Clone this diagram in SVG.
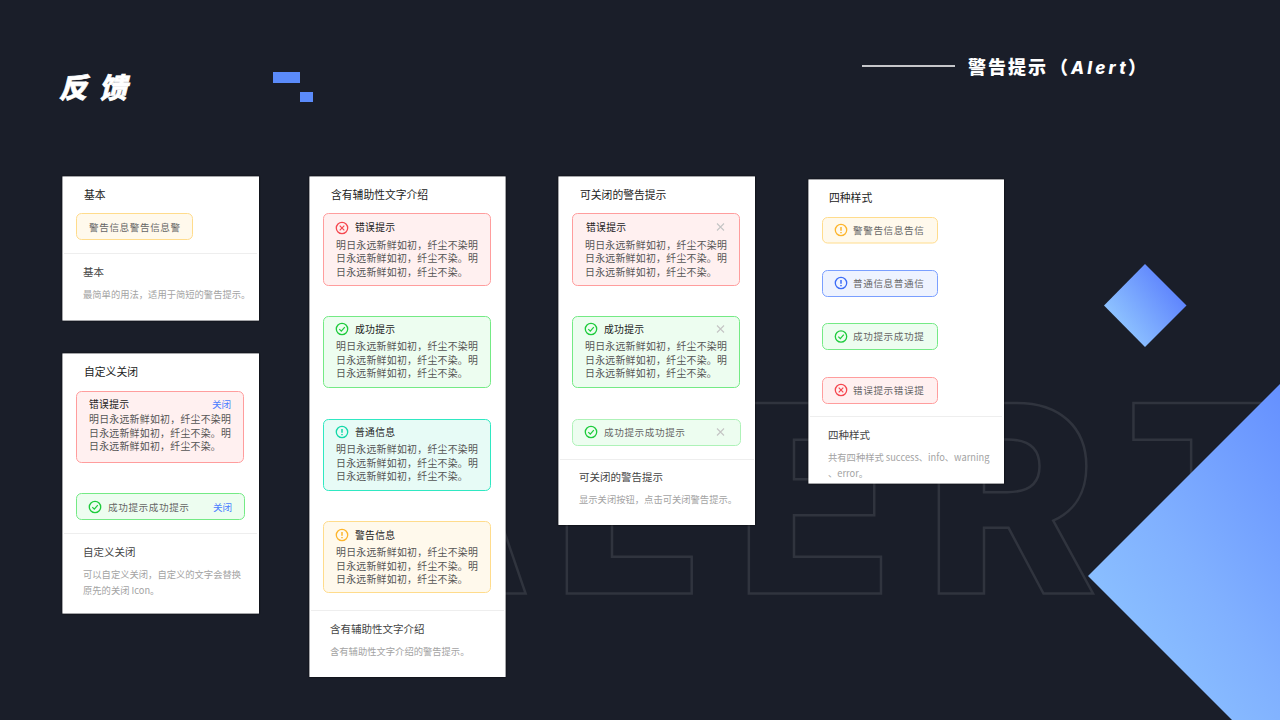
<svg xmlns="http://www.w3.org/2000/svg" width="1280" height="720" viewBox="0 0 1280 720">
<defs>
<linearGradient id="gBig" x1="1" y1="0" x2="0.2" y2="1"><stop offset="0" stop-color="#6590ff"/><stop offset="0.55" stop-color="#80b0ff"/><stop offset="1" stop-color="#8fc6ff"/></linearGradient>
<linearGradient id="gDia" x1="0.85" y1="0.3" x2="0.2" y2="0.8"><stop offset="0" stop-color="#5f85fd"/><stop offset="1" stop-color="#8fc4ff"/></linearGradient>
<filter id="sh" x="-5%" y="-5%" width="110%" height="110%"><feDropShadow dx="0" dy="0" stdDeviation="1" flood-color="#000" flood-opacity="0.9"/></filter>
<g id="ix" fill="none"><circle r="5.700" stroke="#f5474f" stroke-width="1.300"/><path d="M-2.300-2.300L2.300 2.300M2.300-2.300L-2.300 2.300" stroke="#f5474f" stroke-width="1.200"/></g>
<g id="ic" fill="none"><circle r="5.700" stroke="#1ecb3c" stroke-width="1.300"/><path d="M-2.700 0.200L-0.700 2.200L2.800-1.900" stroke="#1ecb3c" stroke-width="1.200"/></g>
<g id="it"><circle r="5.700" fill="none" stroke="#12d8a8" stroke-width="1.300"/><path d="M0-3V0.800M0 2V3.200" stroke="#12d8a8" stroke-width="1.500" fill="none"/></g>
<g id="iy"><circle r="5.700" fill="none" stroke="#fdb52c" stroke-width="1.300"/><path d="M0-3V0.800M0 2V3.200" stroke="#fdb52c" stroke-width="1.500" fill="none"/></g>
<g id="ib"><circle r="5.700" fill="none" stroke="#3c6cf6" stroke-width="1.300"/><path d="M0-3V0.800M0 2V3.200" stroke="#3c6cf6" stroke-width="1.500" fill="none"/></g>
<path id="cl" d="M-3.500-3.500L3.500 3.500M3.500-3.500L-3.500 3.500" stroke="#c4c4c4" stroke-width="1.100" fill="none"/>
</defs>
<style>
text{font-family:"Noto Sans CJK SC","Noto Sans",sans-serif}
.card{fill:#fff;filter:url(#sh)}
.div{stroke:#eeeeee;stroke-width:1}
.h{font-size:10.800px;fill:#222}
.fh{font-size:10.500px;fill:#444}
.d{font-size:9.300px;fill:#a3a3a3}
.at{font-size:9.800px;fill:#222;letter-spacing:.3px}
.b{font-size:9.900px;fill:#555;letter-spacing:.28px}
.s{font-size:9.600px;fill:#666;letter-spacing:.6px}
.lk{font-size:9.600px;fill:#4a7dff}
.r{fill:#fff0f0;stroke:#ff9d9d}
.g{fill:#edfdf0;stroke:#74ea85}
.t{fill:#e7fbf6;stroke:#2fe8c2}
.y{fill:#fff9ec;stroke:#ffdc8c}
.bl{fill:#eef3ff;stroke:#7a9fff}
.ghost{font-family:"Inter","Noto Sans",sans-serif;font-size:262px;font-weight:800;fill:none;stroke:#30343e;stroke-width:2.500}
</style>
<rect width="1280" height="720" fill="#1a1e29"/>
<text class="ghost" x="330 552 734 924 1125" y="593.500">ALERT</text>
<polygon points="1088,576 1280,384 1280,720 1232,720" fill="url(#gBig)"/>
<polygon points="1145,264 1186.500,305.500 1145,347 1104,305.500" fill="url(#gDia)"/>
<rect x="273" y="72" width="27" height="11" fill="#5b8bfa"/>
<rect x="300" y="92" width="13" height="10" fill="#5b8bfa"/>
<text transform="translate(59 98) skewX(-14)" font-size="28" font-weight="900" fill="#fff" stroke="#fff" stroke-width=".7" letter-spacing="12">反馈</text>
<line x1="862" y1="66" x2="955" y2="66" stroke="#fff" stroke-width="1.500"/>
<text y="74" font-size="18" font-weight="900" fill="#fff"><tspan x="968" letter-spacing="2">警告提示</tspan><tspan x="1050">（</tspan><tspan x="1071" font-family="Inter,sans-serif" font-style="italic" font-size="17" font-weight="800" letter-spacing="3.200">Alert</tspan><tspan x="1128">）</tspan></text>

<g id="card-basic">
<rect class="card" x="62.500" y="176.500" width="196.500" height="144"/>
<text class="h" x="84" y="199">基本</text>
<rect class="y" x="76.500" y="213.500" width="116" height="26" rx="5"/>
<text class="s" x="89" y="231">警告信息警告信息警</text>
<line class="div" x1="64" y1="253.500" x2="257" y2="253.500"/>
<text class="fh" x="83" y="276">基本</text>
<text class="d" x="83" y="298">最简单的用法，适用于简短的警告提示。</text>
</g>

<g id="card-custom">
<rect class="card" x="62.500" y="353.500" width="196.500" height="260"/>
<text class="h" x="84" y="376">自定义关闭</text>
<rect class="r" x="76.500" y="391.500" width="167" height="71" rx="5"/>
<text class="at" x="89" y="408">错误提示</text>
<text class="lk" x="212" y="408">关闭</text>
<text class="b" x="89" y="423">明日永远新鲜如初，纤尘不染明</text>
<text class="b" x="89" y="436.500">日永远新鲜如初，纤尘不染。明</text>
<text class="b" x="89" y="450">日永远新鲜如初，纤尘不染。</text>
<rect class="g" x="76.500" y="493.500" width="168" height="26" rx="5"/>
<use href="#ic" x="95" y="507"/>
<text class="s" x="108" y="510.500">成功提示成功提示</text>
<text class="lk" x="213" y="510.500">关闭</text>
<line class="div" x1="64" y1="533.500" x2="257" y2="533.500"/>
<text class="fh" x="83" y="556">自定义关闭</text>
<text class="d" x="83" y="578">可以自定义关闭，自定义的文字会替换</text>
<text class="d" x="83" y="594">原先的关闭 Icon。</text>
</g>

<g id="card-desc">
<rect class="card" x="309.500" y="176.500" width="196" height="500.500"/>
<text class="h" x="331" y="199">含有辅助性文字介绍</text>
<rect class="r" x="323.500" y="213.500" width="167" height="72" rx="5"/>
<use href="#ix" x="342" y="228"/>
<text class="at" x="355" y="231">错误提示</text>
<text class="b" x="336" y="248.500">明日永远新鲜如初，纤尘不染明</text>
<text class="b" x="336" y="262">日永远新鲜如初，纤尘不染。明</text>
<text class="b" x="336" y="275.500">日永远新鲜如初，纤尘不染。</text>
<rect class="g" x="323.500" y="316.500" width="167" height="71" rx="5"/>
<use href="#ic" x="342" y="329"/>
<text class="at" x="355" y="333">成功提示</text>
<text class="b" x="336" y="350">明日永远新鲜如初，纤尘不染明</text>
<text class="b" x="336" y="363.500">日永远新鲜如初，纤尘不染。明</text>
<text class="b" x="336" y="377">日永远新鲜如初，纤尘不染。</text>
<rect class="t" x="323.500" y="419.500" width="167" height="71" rx="5"/>
<use href="#it" x="342" y="432"/>
<text class="at" x="355" y="436">普通信息</text>
<text class="b" x="336" y="453">明日永远新鲜如初，纤尘不染明</text>
<text class="b" x="336" y="466.500">日永远新鲜如初，纤尘不染。明</text>
<text class="b" x="336" y="480">日永远新鲜如初，纤尘不染。</text>
<rect class="y" x="323.500" y="521.500" width="167" height="71" rx="5"/>
<use href="#iy" x="342" y="535"/>
<text class="at" x="355" y="538.500">警告信息</text>
<text class="b" x="336" y="556">明日永远新鲜如初，纤尘不染明</text>
<text class="b" x="336" y="569.500">日永远新鲜如初，纤尘不染。明</text>
<text class="b" x="336" y="583">日永远新鲜如初，纤尘不染。</text>
<line class="div" x1="311" y1="610.500" x2="504" y2="610.500"/>
<text class="fh" x="330" y="633">含有辅助性文字介绍</text>
<text class="d" x="330" y="655">含有辅助性文字介绍的警告提示。</text>
</g>

<g id="card-closable">
<rect class="card" x="558.500" y="176.500" width="196.500" height="348.500"/>
<text class="h" x="580" y="199">可关闭的警告提示</text>
<rect class="r" x="572.500" y="213.500" width="167" height="72" rx="5"/>
<text class="at" x="586" y="231">错误提示</text>
<use href="#cl" x="720.500" y="227"/>
<text class="b" x="585" y="248.500">明日永远新鲜如初，纤尘不染明</text>
<text class="b" x="585" y="262">日永远新鲜如初，纤尘不染。明</text>
<text class="b" x="585" y="275.500">日永远新鲜如初，纤尘不染。</text>
<rect class="g" x="572.500" y="316.500" width="167" height="71" rx="5"/>
<use href="#ic" x="591" y="329"/>
<text class="at" x="604" y="333">成功提示</text>
<use href="#cl" x="720.500" y="329"/>
<text class="b" x="585" y="350">明日永远新鲜如初，纤尘不染明</text>
<text class="b" x="585" y="363.500">日永远新鲜如初，纤尘不染。明</text>
<text class="b" x="585" y="377">日永远新鲜如初，纤尘不染。</text>
<rect x="572.500" y="419.500" width="168" height="26" rx="5" fill="#edfdf0" stroke="#aef2b8"/>
<use href="#ic" x="591" y="432"/>
<text class="s" x="604" y="436">成功提示成功提示</text>
<use href="#cl" x="720.500" y="432"/>
<line class="div" x1="560" y1="459.500" x2="754" y2="459.500"/>
<text class="fh" x="579" y="481">可关闭的警告提示</text>
<text class="d" x="579" y="503">显示关闭按钮，点击可关闭警告提示。</text>
</g>

<g id="card-styles">
<rect class="card" x="808.500" y="179.500" width="195.500" height="304"/>
<text class="h" x="829" y="202">四种样式</text>
<rect class="y" x="822.500" y="217.500" width="115" height="25.500" rx="5"/>
<use href="#iy" x="841" y="230"/>
<text class="s" x="853" y="234">警警告信息告信</text>
<rect class="bl" x="822.500" y="270.500" width="115" height="26" rx="5"/>
<use href="#ib" x="841" y="283"/>
<text class="s" x="853" y="287">普通信息普通信</text>
<rect class="g" x="822.500" y="323.500" width="115" height="26" rx="5"/>
<use href="#ic" x="841" y="336.500"/>
<text class="s" x="853" y="340">成功提示成功提</text>
<rect class="r" x="822.500" y="377.500" width="115" height="26" rx="5"/>
<use href="#ix" x="841" y="390"/>
<text class="s" x="853" y="394">错误提示错误提</text>
<line class="div" x1="810" y1="416.500" x2="1002" y2="416.500"/>
<text class="fh" x="828" y="439">四种样式</text>
<text class="d" x="828" y="461">共有四种样式 success、info、warning</text>
<text class="d" x="828" y="477">、error。</text>
</g>
</svg>
